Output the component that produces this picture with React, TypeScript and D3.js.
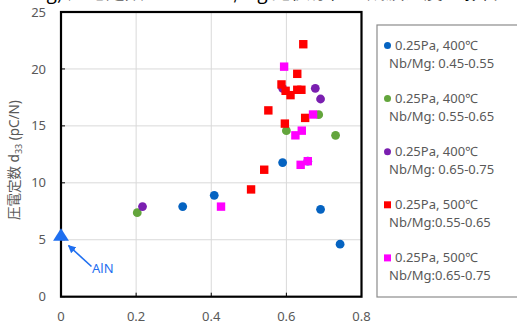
import React from "react";
import * as d3 from "d3";

const W = 517;
const H = 324;

const xTicks = [0, 0.2, 0.4, 0.6, 0.8];
const yTicks = [0, 5, 10, 15, 20, 25];

const blueX = [0.324, 0.408, 0.59, 0.657, 0.691, 0.743];
const blueY = [7.91, 8.9, 11.78, 11.9, 7.67, 4.61];
const greenX = [0.203, 0.6, 0.686, 0.731];
const greenY = [7.38, 14.58, 15.98, 14.17];
const purpleX = [0.217, 0.59, 0.677, 0.691];
const purpleY = [7.91, 18.3, 18.3, 17.36];
const redX = [0.645, 0.629, 0.587, 0.598, 0.611, 0.629, 0.64, 0.552, 0.596, 0.65, 0.541, 0.506];
const redY = [22.17, 19.57, 18.64, 18.08, 17.7, 18.17, 18.17, 16.36, 15.2, 15.7, 11.15, 9.42];
const magentaX = [0.594, 0.671, 0.641, 0.624, 0.638, 0.657, 0.426];
const magentaY = [20.2, 16.0, 14.58, 14.17, 11.58, 11.9, 7.91];
const alnX = [0];
const alnY = [5.2];

const legendLine1 = ["0.25Pa, 400℃", "0.25Pa, 400℃", "0.25Pa, 400℃", "0.25Pa, 500℃", "0.25Pa, 500℃"];
const legendLine2 = ["Nb/Mg: 0.45-0.55", "Nb/Mg: 0.55-0.65", "Nb/Mg: 0.65-0.75", "Nb/Mg:0.55-0.65", "Nb/Mg:0.65-0.75"];

const BLUE = "#0563C1";
const GREEN = "#63A53C";
const PURPLE = "#7A1FB0";
const RED = "#FF0000";
const MAGENTA = "#FF00FF";
const TRI = "#1F6FF0";
const GRAY = "#595959";

const legendColors = [BLUE, GREEN, PURPLE, RED, MAGENTA];
const legendShapes = ["circle", "circle", "circle", "square", "square"];

export default function App() {
  const left = 61, right = 361.5, top = 12, bottom = 296.7;
  const x = d3.scaleLinear().domain([0, 0.8]).range([left, right]);
  const y = d3.scaleLinear().domain([0, 25]).range([bottom, top]);
  const font = "'Noto Sans', 'Noto Sans CJK JP', sans-serif";

  const circles = (xs: number[], ys: number[], c: string) =>
    xs.map((v, i) => <circle key={c + i} cx={x(v)} cy={y(ys[i])} r={4.4} fill={c} />);
  const squares = (xs: number[], ys: number[], c: string) =>
    xs.map((v, i) => <rect key={c + i} x={x(v) - 4.2} y={y(ys[i]) - 4.2} width={8.4} height={8.4} fill={c} />);

  const tri = d3.symbol().type(d3.symbolTriangle).size(90)();

  return (
    <div style={{ position: "fixed", left: 0, top: 0 }}>
      <svg width={W} height={H} style={{ display: "block", background: "#fff" }} fontFamily={font}>
        <defs>
          <marker id="ah" viewBox="0 0 10 10" refX="9" refY="5" markerWidth="5" markerHeight="5" orient="auto">
            <path d="M0,0 L10,5 L0,10 z" fill={TRI} />
          </marker>
        </defs>
        {/* cut-off title */}
        <text x={46} y={-1.5} fontSize={19} fill="#000" fontFamily="'Noto Sans CJK JP', sans-serif">
          g) 圧電定数 d33 の Nb/Mg 比依存性と成膜温度の影響
        </text>
        {/* grid */}
        {xTicks.slice(1, -1).map((t) => (
          <line key={"gx" + t} x1={x(t)} x2={x(t)} y1={top} y2={bottom} stroke="#d9d9d9" strokeWidth={1} />
        ))}
        {yTicks.slice(1, -1).map((t) => (
          <line key={"gy" + t} x1={left} x2={right} y1={y(t)} y2={y(t)} stroke="#d9d9d9" strokeWidth={1} />
        ))}
        {/* ticks */}
        {yTicks.map((t) => (
          <line key={"ty" + t} x1={left} x2={left + 4} y1={y(t)} y2={y(t)} stroke="#000" strokeWidth={1} />
        ))}
        {xTicks.map((t) => (
          <line key={"tx" + t} x1={x(t)} x2={x(t)} y1={bottom} y2={bottom - 4} stroke="#000" strokeWidth={1} />
        ))}
        <rect x={left} y={top} width={right - left} height={bottom - top} fill="none" stroke="#000" strokeWidth={2.2} />
        {/* tick labels */}
        {yTicks.map((t) => (
          <text key={"ly" + t} x={46} y={y(t) + 4.6} fontSize={13} fill={GRAY} textAnchor="end">{t}</text>
        ))}
        {xTicks.map((t) => (
          <text key={"lx" + t} x={x(t)} y={321} fontSize={13} fill={GRAY} textAnchor="middle">{t === 0 ? "0" : t.toString()}</text>
        ))}
        {/* axis title */}
        <text transform={`translate(19,160) rotate(-90)`} fontSize={13.5} fill={GRAY} textAnchor="middle">
          圧電定数 d<tspan fontSize={9} dy={3}>33</tspan><tspan dy={-3}> (pC/N)</tspan>
        </text>
        {/* data */}
        {circles(blueX, blueY, BLUE)}
        {circles(greenX, greenY, GREEN)}
        {circles(purpleX, purpleY, PURPLE)}
        {squares(redX, redY, RED)}
        {squares(magentaX, magentaY, MAGENTA)}
        {alnX.map((v, i) => (
          <path key={"aln" + i} d={tri!} transform={`translate(${x(v)},${y(alnY[i]) - 1}) scale(1.1,1)`} fill={TRI} />
        ))}
        <line x1={91.5} y1={266.5} x2={68.5} y2={245.5} stroke={TRI} strokeWidth={1.6} markerEnd="url(#ah)" />
        <text x={92} y={272.5} fontSize={13} fill={TRI}>AlN</text>
        {/* legend */}
        <rect x={377} y={25} width={160} height={272} fill="#fff" stroke="#8c8c8c" strokeWidth={1.2} />
        {legendLine1.map((l, i) => {
          const cy = 45.5 + i * 53.1;
          return (
            <g key={"lg" + i}>
              {legendShapes[i] === "circle" ? (
                <circle cx={387.5} cy={cy} r={3.5} fill={legendColors[i]} />
              ) : (
                <rect x={384} y={cy - 3.5} width={7} height={7} fill={legendColors[i]} />
              )}
              <text x={395} y={cy + 4.5} fontSize={13} fill={GRAY}>{l}</text>
              <text x={389} y={cy + 22} fontSize={13} fill={GRAY}>{legendLine2[i]}</text>
            </g>
          );
        })}
      </svg>
    </div>
  );
}
